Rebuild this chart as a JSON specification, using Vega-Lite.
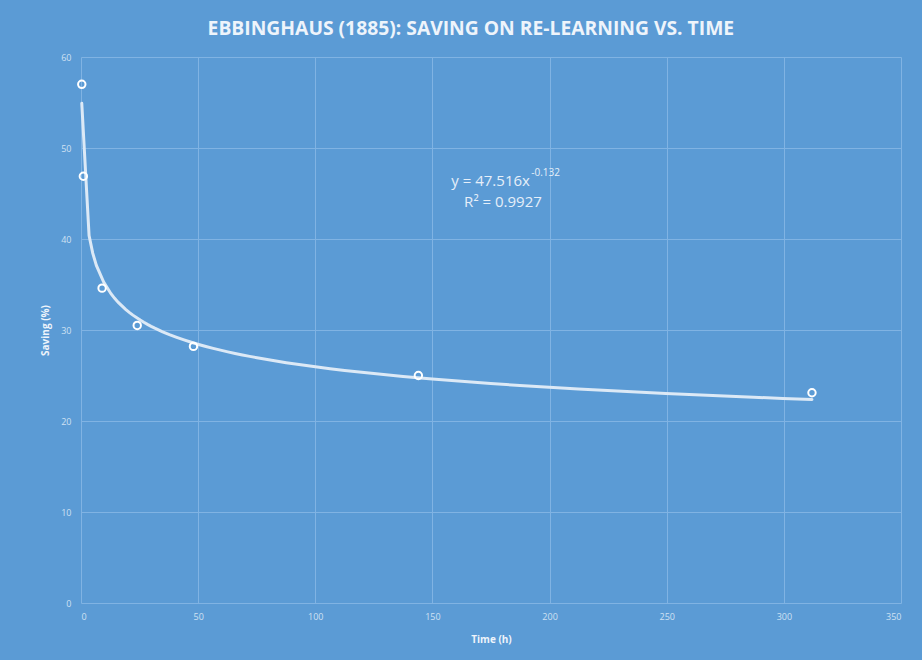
{
  "$schema": "https://vega.github.io/schema/vega-lite/v6.json",
  "width": 820,
  "height": 546,
  "autosize": {"type": "none"},
  "padding": {"left": 81, "top": 57, "right": 21, "bottom": 57},
  "background": "#5B9BD5",
  "title": {
    "text": "EBBINGHAUS (1885): SAVING ON RE-LEARNING VS. TIME",
    "font": "Open Sans",
    "fontSize": 19.3,
    "fontWeight": "bold",
    "color": "#eef4fb",
    "anchor": "middle",
    "frame": "bounds",
    "offset": 14
  },
  "config": {
    "view": {"stroke": null},
    "axis": {
      "domain": false,
      "ticks": false,
      "gridColor": "#80b3e3",
      "gridOpacity": 1,
      "gridWidth": 1,
      "labelColor": "#cfe1f3",
      "labelFont": "Open Sans",
      "labelFontSize": 9,
      "titleColor": "#eef4fb",
      "titleFont": "Open Sans",
      "titleFontSize": 10,
      "titleFontWeight": "bold"
    }
  },
  "datasets": {
    "points": [
      {"time": 0.33, "saving": 57.0},
      {"time": 1, "saving": 46.9},
      {"time": 9, "saving": 34.6},
      {"time": 24, "saving": 30.5},
      {"time": 48, "saving": 28.2},
      {"time": 144, "saving": 25.0},
      {"time": 312, "saving": 23.1}
    ],
    "notes": [
      {"time": 191.6, "saving": 45.8, "label": "y = 47.516x", "kind": "main", "align": "right"},
      {"time": 192.2, "saving": 46.9, "label": "-0.132", "kind": "sup", "align": "left"},
      {"time": 180.1, "saving": 43.5, "label": "R² = 0.9927", "kind": "main", "align": "center"}
    ]
  },
  "encoding": {
    "x": {
      "field": "time",
      "type": "quantitative",
      "title": "Time (h)",
      "scale": {"domain": [0, 350], "nice": false, "zero": true},
      "axis": {"values": [0, 50, 100, 150, 200, 250, 300, 350], "labelPadding": 9, "titlePadding": 13}
    },
    "y": {
      "field": "saving",
      "type": "quantitative",
      "title": "Saving (%)",
      "scale": {"domain": [0, 60], "nice": false},
      "axis": {"values": [0, 10, 20, 30, 40, 50, 60], "labelPadding": 10, "titlePadding": 10}
    }
  },
  "layer": [
    {
      "data": {"name": "points"},
      "transform": [{"regression": "saving", "on": "time", "method": "pow"}],
      "mark": {"type": "line", "color": "#dce9f6", "strokeWidth": 3, "strokeCap": "round"}
    },
    {
      "data": {"name": "points"},
      "mark": {"type": "point", "shape": "circle", "filled": false, "color": "#ffffff", "strokeWidth": 2, "size": 55, "opacity": 1}
    },
    {
      "data": {"name": "notes"},
      "transform": [{"filter": "datum.kind === 'main' && datum.align === 'right'"}],
      "mark": {"type": "text", "align": "right", "baseline": "alphabetic", "font": "Open Sans", "fontSize": 15, "color": "#e6eff9"},
      "encoding": {"text": {"field": "label"}}
    },
    {
      "data": {"name": "notes"},
      "transform": [{"filter": "datum.kind === 'main' && datum.align === 'center'"}],
      "mark": {"type": "text", "align": "center", "baseline": "alphabetic", "font": "Open Sans", "fontSize": 15, "color": "#e6eff9"},
      "encoding": {"text": {"field": "label"}}
    },
    {
      "data": {"name": "notes"},
      "transform": [{"filter": "datum.kind === 'sup'"}],
      "mark": {"type": "text", "align": "left", "baseline": "alphabetic", "font": "Open Sans", "fontSize": 10, "color": "#e6eff9"},
      "encoding": {"text": {"field": "label"}}
    }
  ]
}
